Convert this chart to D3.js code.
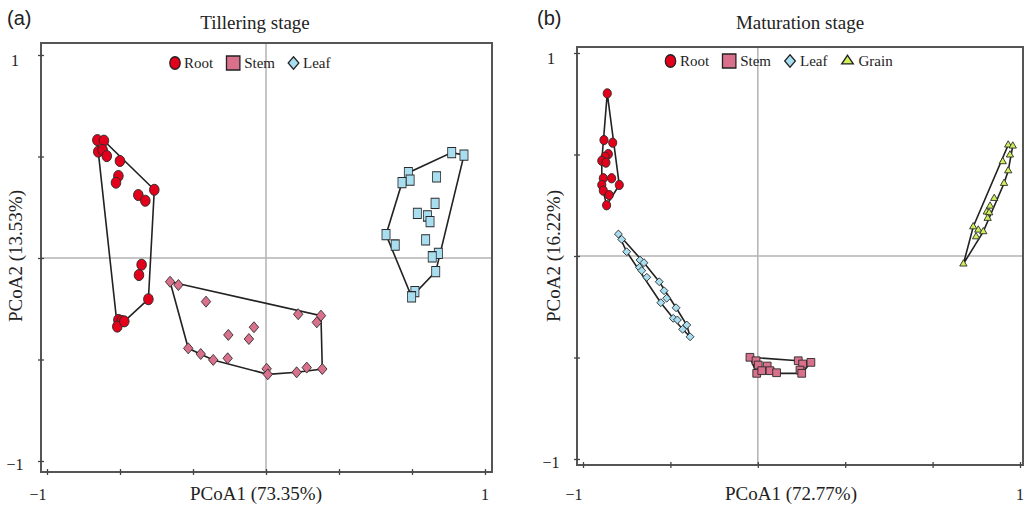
<!DOCTYPE html>
<html>
<head>
<meta charset="utf-8">
<script src="https://cdn.jsdelivr.net/npm/d3@7"></script>
<style>
  body { margin: 0; background: #fff; }
  text { font-family: "Liberation Serif", "Times New Roman", serif; fill: #222; }
  .panel-tag { font-family: "Liberation Sans", Arial, sans-serif; }
</style>
</head>
<body>
<div id="chart"></div>
<script>
// ---- data: [PCoA1, PCoA2] ----
const tilleringRoot = [
  [-0.770, 0.581], [-0.740, 0.578], [-0.766, 0.524], [-0.746, 0.532], [-0.727, 0.502],
  [-0.667, 0.478], [-0.674, 0.404], [-0.685, 0.371], [-0.510, 0.336], [-0.583, 0.310],
  [-0.551, 0.282], [-0.568, -0.033], [-0.580, -0.084], [-0.537, -0.203], [-0.674, -0.305],
  [-0.659, -0.310], [-0.679, -0.338], [-0.647, -0.312]
];
const tilleringStem = [
  [-0.438, -0.117], [-0.400, -0.133], [-0.274, -0.215], [0.147, -0.277], [0.251, -0.284],
  [0.232, -0.317], [-0.055, -0.341], [-0.172, -0.379], [-0.078, -0.399], [-0.355, -0.445],
  [-0.298, -0.473], [-0.241, -0.502], [-0.175, -0.494], [0.003, -0.546], [0.008, -0.573],
  [0.140, -0.563], [0.186, -0.540], [0.257, -0.547]
];
const tilleringLeaf = [
  [0.848, 0.519], [0.904, 0.507], [0.650, 0.420], [0.658, 0.384], [0.621, 0.371],
  [0.779, 0.400], [0.772, 0.269], [0.691, 0.220], [0.737, 0.207], [0.749, 0.179],
  [0.548, 0.115], [0.590, 0.064], [0.729, 0.089], [0.787, 0.023], [0.759, 0.006],
  [0.775, -0.067], [0.680, -0.166], [0.665, -0.191]
];

const maturationRoot = [
  [-0.889, 0.801], [-0.904, 0.571], [-0.864, 0.558], [-0.884, 0.502], [-0.899, 0.489],
  [-0.914, 0.469], [-0.895, 0.460], [-0.907, 0.383], [-0.869, 0.383], [-0.834, 0.350],
  [-0.914, 0.350], [-0.907, 0.322], [-0.880, 0.300], [-0.892, 0.250]
];
const maturationStem = [
  [-0.236, -0.499], [-0.208, -0.516], [-0.198, -0.537], [-0.157, -0.542], [-0.205, -0.578],
  [-0.182, -0.565], [-0.144, -0.565], [-0.114, -0.575], [-0.015, -0.516], [0.005, -0.532],
  [0.043, -0.524], [-0.007, -0.562], [0.001, -0.578]
];
const maturationLeaf = [
  [-0.838, 0.108], [-0.823, 0.082], [-0.800, 0.021], [-0.739, -0.020], [-0.721, -0.033],
  [-0.742, -0.056], [-0.731, -0.072], [-0.708, -0.105], [-0.651, -0.127], [-0.629, -0.171],
  [-0.617, -0.208], [-0.644, -0.230], [-0.574, -0.255], [-0.587, -0.307], [-0.568, -0.315],
  [-0.525, -0.340], [-0.544, -0.361], [-0.510, -0.398]
];
const maturationGrain = [
  [0.946, 0.547], [0.967, 0.542], [0.954, 0.498], [0.921, 0.465], [0.946, 0.420],
  [0.927, 0.358], [0.882, 0.284], [0.863, 0.246], [0.848, 0.217], [0.859, 0.213],
  [0.852, 0.186], [0.786, 0.144], [0.809, 0.128], [0.832, 0.120], [0.799, 0.095],
  [0.741, -0.039]
];

const tilleringXTicks = [-1, -2 / 3, -1 / 3, 0, 1 / 3, 2 / 3, 1];
const maturationXTicks = [-1, -0.6, -0.2, 0.2, 0.6, 1];
const yTicks = [-1, -0.5, 0, 0.5, 1];
const tickLabels = [-1, 1];

const tilleringOrigin = [0, 0];
const maturationOrigin = [-0.2, 0];

const colors = { Root: "#e3001b", Stem: "#d9708c", Leaf: "#a8def0", Grain: "#cdf05a" };

const width = 1029, height = 506;
const svg = d3.select("#chart").append("svg")
  .attr("width", width)
  .attr("height", height);

const shapes = {
  circle: d3.symbolCircle,
  square: d3.symbolSquare,
  diamond: d3.symbolDiamond2,
  triangle: d3.symbolTriangle2
};

/*******************************/
/*      Draw one PCoA panel    */
/*******************************/
const drawPanel = (p) => {
  const g = svg.append("g");

  const xScale = d3.scaleLinear().domain([-1, 1]).range(p.xRange);
  const yScale = d3.scaleLinear().domain([-1, 1]).range(p.yRange);
  const f = p.frame;

  // origin cross lines
  g.append("line")
    .attr("x1", xScale(p.origin[0])).attr("x2", xScale(p.origin[0]))
    .attr("y1", f.top).attr("y2", f.bottom)
    .attr("stroke", "#b3b3b3").attr("stroke-width", 1.5);
  g.append("line")
    .attr("x1", f.left).attr("x2", f.right)
    .attr("y1", yScale(p.origin[1])).attr("y2", yScale(p.origin[1]))
    .attr("stroke", "#b3b3b3").attr("stroke-width", 1.5);

  // frame
  g.append("rect")
    .attr("x", f.left).attr("y", f.top)
    .attr("width", f.right - f.left).attr("height", f.bottom - f.top)
    .attr("fill", "none").attr("stroke", "#555").attr("stroke-width", 2);

  // ticks crossing the frame
  g.append("g")
    .attr("transform", `translate(0, ${f.bottom + 3})`)
    .call(d3.axisBottom(xScale).tickValues(p.xTicks).tickSize(6).tickSizeOuter(0).tickFormat(""))
    .call(a => a.select(".domain").remove())
    .call(a => a.selectAll(".tick line").attr("y1", -6).attr("y2", 0).attr("stroke", "#444").attr("stroke-width", 1.3));
  g.append("g")
    .attr("transform", `translate(${f.left - 3}, 0)`)
    .call(d3.axisLeft(yScale).tickValues(yTicks).tickSize(6).tickSizeOuter(0).tickFormat(""))
    .call(a => a.select(".domain").remove())
    .call(a => a.selectAll(".tick line").attr("x1", 6).attr("x2", 0).attr("stroke", "#444").attr("stroke-width", 1.3));

  // tick labels
  const fmt = d => (d < 0 ? "\u2212" : "") + Math.abs(d);
  g.selectAll(".xlab").data(tickLabels).join("text")
    .attr("x", d => xScale(d) + (d < 0 ? -9 : 0))
    .attr("y", 500)
    .attr("text-anchor", "middle")
    .attr("font-size", 16)
    .text(fmt);
  g.selectAll(".ylab").data(tickLabels).join("text")
    .attr("x", p.yLabelX)
    .attr("y", d => yScale(d) + (d > 0 ? 5 : 3))
    .attr("dy", "0.35em")
    .attr("text-anchor", "middle")
    .attr("font-size", 16)
    .text(fmt);

  // axis titles
  g.append("text")
    .attr("x", p.xTitleX).attr("y", 500)
    .attr("text-anchor", "middle")
    .attr("font-size", 19)
    .text(p.xTitle);
  g.append("text")
    .attr("transform", `translate(${p.yTitleX}, 256) rotate(-90)`)
    .attr("text-anchor", "middle")
    .attr("dy", "0.35em")
    .attr("font-size", 19)
    .text(p.yTitle);

  // panel title and tag
  g.append("text")
    .attr("x", p.titleX).attr("y", 29)
    .attr("text-anchor", "middle")
    .attr("font-size", 19)
    .text(p.title);
  g.append("text")
    .attr("class", "panel-tag")
    .attr("x", p.tagX).attr("y", 25)
    .attr("font-size", 20)
    .text(p.tag);

  // hulls then points
  p.series.forEach(s => {
    const pts = s.data.map(d => [xScale(d[0]), yScale(d[1])]);
    const hull = d3.polygonHull(pts);
    g.append("path")
      .attr("d", "M" + hull.join("L") + "Z")
      .attr("fill", "none")
      .attr("stroke", "#222")
      .attr("stroke-width", 1.6);
  });
  p.series.forEach(s => {
    const sym = d3.symbol().type(shapes[s.shape]).size(s.size);
    g.append("g").selectAll("path").data(s.data).join("path")
      .attr("d", sym)
      .attr("transform", d => `translate(${xScale(d[0])}, ${yScale(d[1])}) scale(${s.sx || 1}, ${s.sy || 1})`)
      .attr("fill", colors[s.name])
      .attr("stroke", "#2a2a2a")
      .attr("stroke-width", 0.9);
  });

  // legend
  let lx = p.legend.x;
  p.legend.items.forEach(it => {
    const sym = d3.symbol().type(shapes[it.shape]).size(it.size);
    g.append("path")
      .attr("d", sym)
      .attr("transform", `translate(${lx + it.w / 2}, ${p.legend.y}) scale(${it.sx || 1}, ${it.sy || 1})`)
      .attr("fill", colors[it.name])
      .attr("stroke", "#222")
      .attr("stroke-width", 1.3);
    const t = g.append("text")
      .attr("x", lx + it.w + 4)
      .attr("y", p.legend.y)
      .attr("dy", "0.35em")
      .attr("font-size", 15)
      .text(it.name);
    lx += it.w + 4 + t.node().getComputedTextLength() + 13;
  });
};

drawPanel({
  tag: "(a)", tagX: 7, title: "Tillering stage", titleX: 255,
  frame: { left: 41, right: 492, top: 43, bottom: 472 },
  xRange: [47, 485], yRange: [461, 55],
  xTicks: tilleringXTicks, origin: tilleringOrigin,
  yLabelX: 15, xTitleX: 256, yTitleX: 15,
  xTitle: "PCoA1 (73.35%)", yTitle: "PCoA2 (13.53%)",
  series: [
    { name: "Root", shape: "circle", size: 80, sx: 0.95, sy: 1.1, data: tilleringRoot },
    { name: "Stem", shape: "diamond", size: 70, sx: 0.9, sy: 1.05, data: tilleringStem },
    { name: "Leaf", shape: "square", size: 80, sx: 0.9, sy: 1.15, data: tilleringLeaf }
  ],
  legend: {
    x: 170, y: 63,
    items: [
      { name: "Root", shape: "circle", size: 95, w: 10, sx: 0.95, sy: 1.15 },
      { name: "Stem", shape: "square", size: 180, w: 14, sx: 1, sy: 1.05 },
      { name: "Leaf", shape: "diamond", size: 80, w: 11, sx: 0.95, sy: 1.1 }
    ]
  }
});

drawPanel({
  tag: "(b)", tagX: 537, title: "Maturation stage", titleX: 800,
  frame: { left: 577, right: 1023, top: 47, bottom: 465 },
  xRange: [583, 1020], yRange: [459, 53],
  xTicks: maturationXTicks, origin: maturationOrigin,
  yLabelX: 551, xTitleX: 791, yTitleX: 553,
  xTitle: "PCoA1 (72.77%)", yTitle: "PCoA2 (16.22%)",
  series: [
    { name: "Root", shape: "circle", size: 58, sx: 0.95, sy: 1.08, data: maturationRoot },
    { name: "Leaf", shape: "diamond", size: 40, data: maturationLeaf },
    { name: "Stem", shape: "square", size: 60, data: maturationStem },
    { name: "Grain", shape: "triangle", size: 38, data: maturationGrain }
  ],
  legend: {
    x: 665, y: 61,
    items: [
      { name: "Root", shape: "circle", size: 95, w: 11, sx: 0.95, sy: 1.15 },
      { name: "Stem", shape: "square", size: 180, w: 14, sx: 1, sy: 1.05 },
      { name: "Leaf", shape: "diamond", size: 80, w: 12, sx: 0.95, sy: 1.1 },
      { name: "Grain", shape: "triangle", size: 80, w: 14, sx: 1.1, sy: 0.95 }
    ]
  }
});
</script>
</body>
</html>
